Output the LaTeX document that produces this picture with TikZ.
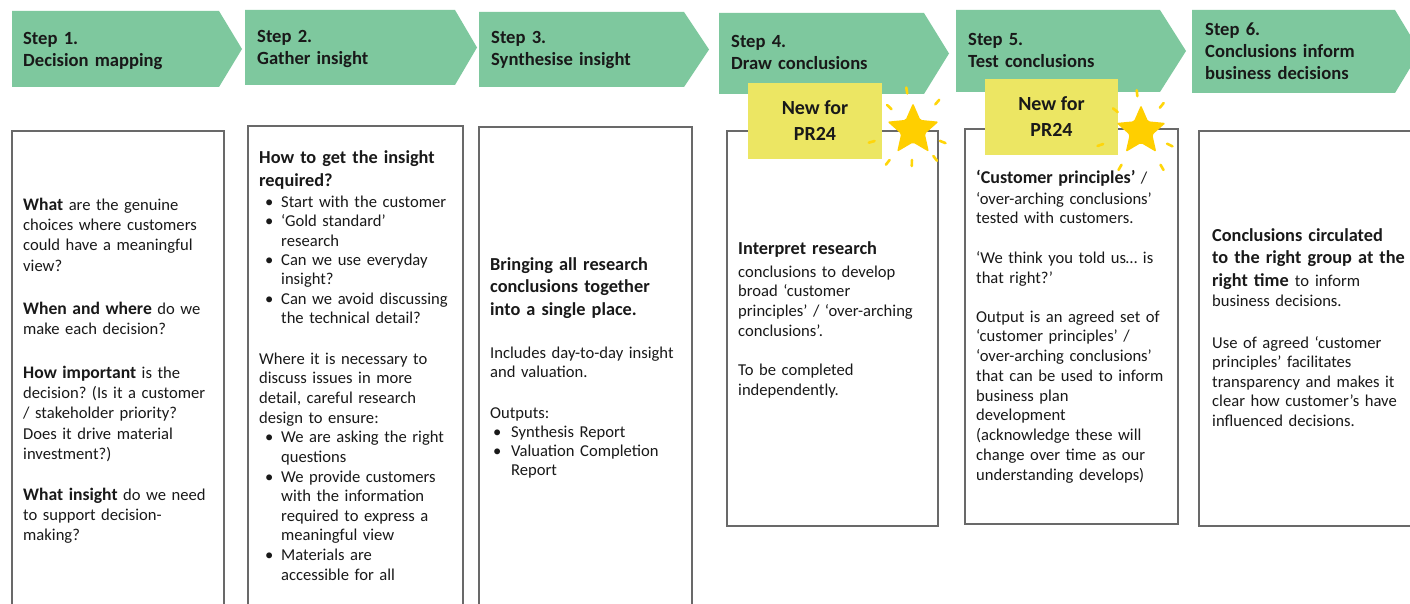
\documentclass[tikz,border=0pt]{standalone}
\usepackage{fontspec}
\setmainfont{Carlito}
\frenchspacing
\definecolor{arrowgreen}{RGB}{126,200,158}
\definecolor{noteyellow}{RGB}{236,230,99}
\definecolor{stargold}{RGB}{255,207,0}
\definecolor{sparkyellow}{RGB}{255,214,10}
\definecolor{boxline}{RGB}{105,105,105}
\definecolor{ink}{RGB}{25,25,25}
\newcommand\fl{\rule{0pt}{16pt}}
\newcommand\bul{\hspace*{6pt}\makebox[16pt][l]{\textbullet}}
\newcommand\ind{\hspace*{22pt}}
\newcommand\bulb{\hspace*{3pt}\makebox[18pt][l]{\textbullet}}
\newcommand\indb{\hspace*{21pt}}
\newcommand\bw[1]{{\bfseries\fontsize{17.6}{20.3}\selectfont #1}}
\begin{document}
\begin{tikzpicture}[x=1pt,y=-1pt,
  stepshape/.style={fill=arrowgreen},
  panel/.style={draw=boxline, fill=white, line width=1.3pt},
  head/.style={anchor=north west, inner sep=0pt, text width=230pt, align=left, text=ink, font=\bfseries\fontsize{18.6}{22}\selectfont},
  body/.style={anchor=north west, inner sep=0pt, text width=230pt, align=left, text=ink, font=\fontsize{16.6}{#1}\selectfont},
  body/.default=19.6,
  bhead/.style={anchor=north west, inner sep=0pt, text width=230pt, align=left, text=ink, font=\bfseries\fontsize{18.3}{#1}\selectfont},
  bhead/.default=22.5,
  newbox/.style={fill=noteyellow, inner sep=0pt, minimum width=#1, minimum height=76pt, align=center, text=ink, font=\bfseries\fontsize{20}{26}\selectfont},
  starfill/.style={fill=stargold, rounded corners=1.5pt},
  spark/.style={draw=sparkyellow, line width=2.6pt, line cap=round}]
\useasboundingbox (0,0) rectangle (1410,604);
\clip (0,0) rectangle (1410,604);
\fill[white] (0,0) rectangle (1410,604);

% step arrows
\fill[stepshape] (12,11) -- (219,11) -- (242,49) -- (219,87) -- (12,87) -- cycle;
\fill[stepshape] (245,10) -- (455,10) -- (477,47.5) -- (455,85) -- (245,85) -- cycle;
\fill[stepshape] (479,12) -- (684,12) -- (709,49.5) -- (684,87) -- (479,87) -- cycle;
\fill[stepshape] (719,13) -- (924,13) -- (949,53.5) -- (924,94) -- (719,94) -- cycle;
\fill[stepshape] (956,10) -- (1160,10) -- (1186,51) -- (1160,92) -- (956,92) -- cycle;
\fill[stepshape] (1192,10) -- (1395,10) -- (1420,51.5) -- (1395,93) -- (1192,93) -- cycle;

\node[head] (h1) at (23,28) {\fl Step 1.\\Decision mapping};
\node[head] (h2) at (257,26.7) {\fl Step 2.\\Gather insight};
\node[head] (h3) at (491,27.3) {\fl Step 3.\\Synthesise insight};
\node[head] (h4) at (731,31.7) {\fl Step 4.\\Draw conclusions};
\node[head] (h5) at (968,29.7) {\fl Step 5.\\Test conclusions};
\node[head] (h6) at (1205,19.7) {\fl Step 6.\\Conclusions inform\\business decisions};

% panels
\draw[panel] (12,131) rectangle (224,620);
\draw[panel] (248,126) rectangle (463,620);
\draw[panel] (479,127) rectangle (692,620);
\draw[panel] (727,131) rectangle (938,526);
\draw[panel] (965,129) rectangle (1178,524);
\draw[panel] (1199,131) rectangle (1425,526);

% new for PR24 notes
\node[newbox=134pt] (n4) at (815,121) {New for\\PR24};
\node[newbox=133pt] (n5) at (1051.5,117) {New for\\PR24};

% stars
\begin{scope}[shift={(913,130)}]
\fill[starfill] (270:27) -- (306:12.5) -- (342:27) -- (18:12.5) -- (54:27) -- (90:12.5) -- (126:27) -- (162:12.5) -- (198:27) -- (234:12.5) -- cycle;
\foreach \a/\p/\q in {261/37/43, 311/34/40, 224/30/36, 22/29/35, 164/40/46, 128/38/44, 92/30/36, 52/33/39}
  \draw[spark] (\a:\p) -- (\a:\q);
\end{scope}
\begin{scope}[shift={(1141,131)}]
\fill[starfill] (270:26) -- (306:12) -- (342:26) -- (18:12) -- (54:26) -- (90:12) -- (126:26) -- (162:12) -- (198:26) -- (234:12) -- cycle;
\foreach \a/\p/\q in {264/35/41, 309/30/36, 219/30/36, 26/29/35, 161/40/46, 120/39/45, 60/39/45}
  \draw[spark] (\a:\p) -- (\a:\q);
\end{scope}

% panel 1
\node[body=20.3] (t1a) at (23,194) {\fl\bw{What} are the genuine\\choices where customers\\could have a meaningful\\view?};
\node[body=20.3] (t1b) at (23,298) {\fl\bw{When and where} do we\\make each decision?};
\node[body=20.3] (t1c) at (23,362) {\fl\bw{How important} is the\\decision? (Is it a customer\\/ stakeholder priority?\\Does it drive material\\investment?)};
\node[body=20.3] (t1d) at (23,484) {\fl\bw{What insight} do we need\\to support decision-\\making?};

% panel 2
\node[bhead=23] (t2a) at (259,147) {\fl How to get the insight\\required?};
\node[body=19.4] (t2b) at (259,191) {\fl\bul Start with the customer\\\bul ‘Gold standard’\\\ind research\\\bul Can we use everyday\\\ind insight?\\\bul Can we avoid discussing\\\ind the technical detail?};
\node[body=19.64] (t2c) at (259,348) {\fl Where it is necessary to\\discuss issues in more\\detail, careful research\\design to ensure:\\\bul We are asking the right\\\ind questions\\\bul We provide customers\\\ind with the information\\\ind required to express a\\\ind meaningful view\\\bul Materials are\\\ind accessible for all};

% panel 3
\node[bhead=22.5] (t3a) at (490,254) {\fl Bringing all research\\conclusions together\\into a single place.};
\node[body=19.5] (t3b) at (490,342) {\fl Includes day-to-day insight\\and valuation.};
\node[body=19.2] (t3c) at (490,402) {\fl Outputs:\\\bulb Synthesis Report\\\bulb Valuation Completion\\\indb Report};

% panel 4
\node[bhead] (t4a) at (738,238) {\fl Interpret research};
\node[body=19.7] (t4b) at (738,261) {\fl conclusions to develop\\broad ‘customer\\principles’ / ‘over-arching\\conclusions’.};
\node[body=20] (t4c) at (738,359) {\fl To be completed\\independently.};

% panel 5
\node[body] (t5a) at (976,167) {\fl{\bfseries\fontsize{18}{20}\selectfont ‘Customer principles’} /};
\node[body=19.5] (t5b) at (976,188) {\fl ‘over-arching conclusions’\\tested with customers.};
\node[body=20] (t5c) at (976,247) {\fl ‘We think you told us… is\\that right?’};
\node[body=19.75] (t5d) at (976,306) {\fl Output is an agreed set of\\‘customer principles’ /\\‘over-arching conclusions’\\that can be used to inform\\business plan\\development\\(acknowledge these will\\change over time as our\\understanding develops)};

% panel 6
\node[bhead=22.5] (t6a) at (1212,225) {\fl Conclusions circulated\\to the right group at the\\right time {\mdseries\fontsize{16.6}{20}\selectfont to inform}};
\node[body] (t6b) at (1212,290) {\fl business decisions.};
\node[body=19.5] (t6c) at (1212,332) {\fl Use of agreed ‘customer\\principles’ facilitates\\transparency and makes it\\clear how customer’s have\\influenced decisions.};
\end{tikzpicture}
\end{document}
